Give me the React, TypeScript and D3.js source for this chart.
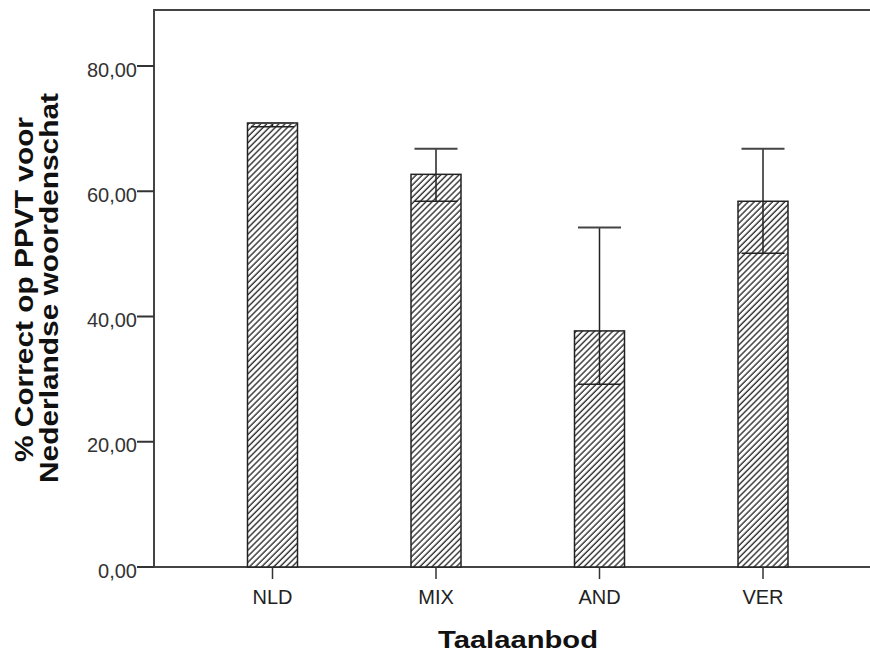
import React from "react";
import * as d3 from "d3";

const categories = ["NLD", "MIX", "AND", "VER"];
const means = [70.9, 62.7, 37.7, 58.4];
const errLow = [70.3, 58.4, 29.2, 50.1];
const errHigh = [70.9, 66.8, 54.2, 66.8];
const yTicks = [0, 20, 40, 60, 80];

export default function App() {
  const W = 870, H = 652;
  const left = 154, right = 880, top = 10, bottom = 567;
  const y = d3.scaleLinear().domain([0, 80]).range([bottom, 66]);
  const x = d3.scalePoint<string>().domain(categories).range([272.5, 763]);
  const bw = 50;
  const cap = 43;
  const fmt = (v: number) => v.toFixed(2).replace(".", ",");
  return (
    <svg width={W} height={H} style={{ position: "absolute", left: 0, top: 0, background: "#fff" }}
      fontFamily="'Liberation Sans', Arial, sans-serif">
      <defs>
        <pattern id="hatch" patternUnits="userSpaceOnUse" width="4.3" height="4.3" patternTransform="rotate(45)">
          <rect width="4.3" height="4.3" fill="#fff" />
          <line x1="1" y1="0" x2="1" y2="4.3" stroke="#222" strokeWidth="1.3" />
        </pattern>
      </defs>
      <rect x={left} y={top} width={right - left} height={bottom - top} fill="#fff" stroke="#444" strokeWidth={2} />
      {yTicks.map((t) => (
        <g key={t}>
          <line x1={left - 17} x2={left} y1={y(t)} y2={y(t)} stroke="#333" strokeWidth={2} />
          <text x={left - 17} y={y(t) + 10.5} textAnchor="end" fontSize={20} fill="#333">{fmt(t)}</text>
        </g>
      ))}
      {categories.map((c, i) => {
        const cx = x(c) as number;
        return (
          <g key={c}>
            <rect x={cx - bw / 2} y={y(means[i])} width={bw} height={bottom - y(means[i])}
              fill="url(#hatch)" stroke="#222" strokeWidth={1.5} />
            <line x1={cx} x2={cx} y1={y(errHigh[i])} y2={y(errLow[i])} stroke="#222" strokeWidth={1.5} />
            <line x1={cx - cap / 2} x2={cx + cap / 2} y1={y(errHigh[i])} y2={y(errHigh[i])} stroke="#444" strokeWidth={2} />
            <line x1={cx - cap / 2} x2={cx + cap / 2} y1={y(errLow[i])} y2={y(errLow[i])} stroke="#222" strokeWidth={1.5} />
            <line x1={cx} x2={cx} y1={bottom} y2={bottom + 12} stroke="#333" strokeWidth={1.5} />
            <text x={cx} y={604} textAnchor="middle" fontSize={20} fill="#222">{c}</text>
          </g>
        );
      })}
      <text x={518} y={648} textAnchor="middle" fontSize={24} fontWeight="bold" fill="#111"
        textLength={160} lengthAdjust="spacingAndGlyphs">Taalaanbod</text>
      <g transform="rotate(-90)">
        <text x={-289.5} y={33} textAnchor="middle" fontSize={25} fontWeight="bold" fill="#111"
          textLength={345} lengthAdjust="spacingAndGlyphs">% Correct op PPVT voor</text>
        <text x={-288} y={58} textAnchor="middle" fontSize={25} fontWeight="bold" fill="#111"
          textLength={390} lengthAdjust="spacingAndGlyphs">Nederlandse woordenschat</text>
      </g>
    </svg>
  );
}
